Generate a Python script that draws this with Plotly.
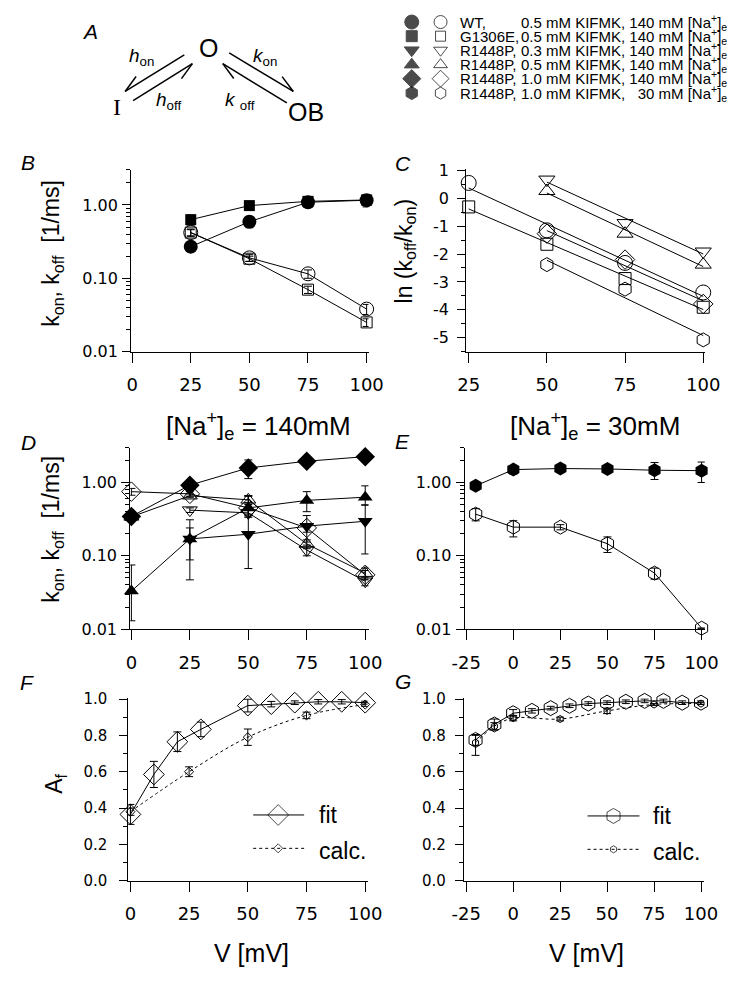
import math

import numpy as np
import plotly.graph_objects as go

W, H = 740, 984

# ---------------- data ----------------
# B: WT and G1306E rate constants vs V (mV)
b_v = [25, 50, 75, 100]
b_wt_kon = [0.27, 0.59, 1.09, 1.16]
b_wt_kon_err = [0.04, 0.1, 0.12, 0.22]
b_wt_koff = [0.42, 0.19, 0.115, 0.038]
b_wt_koff_err = [0.05, 0.02, 0.015, 0.006]
b_g_kon = [0.63, 0.98, 1.12, 1.17]
b_g_kon_err = [0.1, 0.08, 0.06, 0.06]
b_g_koff = [0.42, 0.185, 0.070, 0.025]
b_g_koff_err = [0.04, 0.015, 0.008, 0.003]

# C: ln(koff/kon) vs V
c_v4 = [25, 50, 75, 100]
c_v3 = [50, 75, 100]
c_wt = [0.55, -1.15, -2.32, -3.38]
c_g = [-0.31, -1.65, -2.88, -3.91]
c_r03 = [0.67, -0.89, -1.91]
c_r05 = [0.26, -1.27, -2.38]
c_r10 = [-1.27, -2.20, -3.79]
c_r30 = [-2.38, -3.26, -5.08]

# D: R1448P, 140 mM Na
d_v = [0, 25, 50, 75, 100]
d_v03 = [25, 50, 75, 100]
d_kon10 = [0.344, 0.92, 1.58, 1.95, 2.25]
d_kon10_up = [0.04, 0.08, 0.45, 0.15, 0.2]
d_kon10_dn = [0.04, 0.08, 0.45, 0.15, 0.2]
d_koff10 = [0.75, 0.70, 0.45, 0.24, 0.055]
d_koff10_err = [0.08, 0.05, 0.08, 0.03, 0.008]
d_kon05 = [0.033, 0.17, 0.45, 0.57, 0.63]
d_kon05_up = [0.042, 0.07, 0.2, 0.18, 0.27]
d_kon05_dn = [0.02, 0.082, 0.1, 0.17, 0.14]
d_koff05 = [0.34, 0.66, 0.58, 0.145, 0.058]
d_koff05_err = [0.03, 0.04, 0.08, 0.02, 0.01]
d_kon03 = [0.17, 0.197, 0.254, 0.296]
d_kon03_up = [0.14, 0.46, 0.1, 0.2]
d_kon03_dn = [0.123, 0.13, 0.1, 0.19]
d_koff03 = [0.42, 0.385, 0.12, 0.045]
d_koff03_err = [0.03, 0.05, 0.02, 0.006]

# E: R1448P, 30 mM Na
e_v = [-20, 0, 25, 50, 75, 100]
e_kon = [0.90, 1.50, 1.55, 1.53, 1.47, 1.45]
e_kon_up = [0.12, 0.2, 0.15, 0.15, 0.4, 0.45]
e_kon_dn = [0.1, 0.2, 0.15, 0.15, 0.37, 0.45]
e_koff = [0.37, 0.246, 0.246, 0.146, 0.058, 0.0103]
e_koff_up = [0.07, 0.055, 0.02, 0.035, 0.01, 0.0]
e_koff_dn = [0.07, 0.065, 0.02, 0.035, 0.01, 0.0]

# F: A_f, 140 mM
f_v_fit = [0, 10, 20, 30, 50, 60, 70, 80, 90, 100]
f_fit = [0.365, 0.585, 0.765, 0.833, 0.964, 0.972, 0.98, 0.985, 0.985, 0.98]
f_fit_err = [0.055, 0.072, 0.054, 0.04, 0.035, 0.015, 0.01, 0.012, 0.012, 0.008]
f_v_calc = [0, 25, 50, 75, 100]
f_calc = [0.38, 0.60, 0.79, 0.91, 0.97]
f_calc_err = [0.02, 0.027, 0.045, 0.018, 0.01]

# G: A_f, 30 mM
g_v_fit = [-20, -10, 0, 10, 20, 30, 40, 50, 60, 70, 80, 90, 100]
g_fit = [0.775, 0.86, 0.922, 0.935, 0.95, 0.963, 0.975, 0.98, 0.985, 0.99, 0.99, 0.98, 0.98]
g_fit_err = [0.03, 0.03, 0.02, 0.012, 0.01, 0.01, 0.01, 0.01, 0.01, 0.01, 0.01, 0.01, 0.01]
g_v_calc = [-20, -10, 0, 25, 50, 75, 100]
g_calc = [0.76, 0.85, 0.895, 0.89, 0.935, 0.97, 0.975]
g_calc_up = [0.04, 0.02, 0.015, 0.01, 0.015, 0.005, 0.005]
g_calc_dn = [0.07, 0.02, 0.015, 0.01, 0.015, 0.005, 0.005]

# legend rows (top right)
leg_names = ["WT,", "G1306E,", "R1448P,", "R1448P,", "R1448P,", "R1448P,"]
leg_conds = [
    "0.5 mM KIFMK, 140 mM",
    "0.5 mM KIFMK, 140 mM",
    "0.3 mM KIFMK, 140 mM",
    "0.5 mM KIFMK, 140 mM",
    "1.0 mM KIFMK, 140 mM",
    "1.0 mM KIFMK,&nbsp;&nbsp;&nbsp;30 mM",
]
leg_symbols = ["circle", "square", "triangle-down", "triangle-up", "diamond", "hexagon"]
leg_sizes = [14, 11, 13, 13, 14, 13]

# ---------------- helpers ----------------
TICK = "DejaVu Sans"
TEXT = "Liberation Sans, Arial, sans-serif"


def xdom(a, b):
    return [a / W, b / W]


def ydom(top, bottom):
    return [1 - bottom / H, 1 - top / H]


def err(up, dn=None):
    e = dict(type="data", array=up, color="black", thickness=1, width=4)
    if dn is not None:
        e["arrayminus"] = dn
        e["symmetric"] = False
    return e


fig = go.Figure()


def add(ax, x, y, symbol, size, mode="lines+markers", error=None, dash="solid", shape="linear"):
    filled = not symbol.endswith("open")
    fig.add_trace(go.Scatter(
        x=x, y=y, mode=mode, xaxis="x" + ax, yaxis="y" + ax,
        line=dict(color="black", width=1, dash=dash, shape=shape),
        marker=dict(symbol=symbol, size=size, color="black",
                    line=dict(color="black", width=0 if filled else 1)),
        error_y=error, cliponaxis=False, showlegend=False, hoverinfo="skip",
    ))


# B
add("", b_v, b_wt_koff, "circle-open", 14, error=err(b_wt_koff_err))
add("", b_v, b_g_koff, "square-open", 11, error=err(b_g_koff_err))
add("", b_v, b_wt_kon, "circle", 14, error=err(b_wt_kon_err))
add("", b_v, b_g_kon, "square", 11, error=err(b_g_kon_err))

# C: markers + linear fits
for xs, ys, sym, sz in [(c_v4, c_wt, "circle-open", 15), (c_v4, c_g, "square-open", 12),
                        (c_v3, c_r03, "triangle-down-open", 14), (c_v3, c_r05, "triangle-up-open", 14),
                        (c_v3, c_r10, "diamond-open", 15), (c_v3, c_r30, "hexagon-open", 14)]:
    k, b0 = np.polyfit(xs, ys, 1)
    ends = [xs[0], xs[-1]]
    add("2", ends, [k * v + b0 for v in ends], sym, 1, mode="lines")
    add("2", xs, ys, sym, sz, mode="markers")

# D
add("3", d_v, d_koff05, "triangle-up-open", 13, error=err(d_koff05_err))
add("3", d_v03, d_koff03, "triangle-down-open", 13, error=err(d_koff03_err))
add("3", d_v, d_koff10, "diamond-open", 15, error=err(d_koff10_err))
add("3", d_v, d_kon05, "triangle-up", 13, error=err(d_kon05_up, d_kon05_dn))
add("3", d_v03, d_kon03, "triangle-down", 13, error=err(d_kon03_up, d_kon03_dn))
add("3", d_v, d_kon10, "diamond", 15, error=err(d_kon10_up, d_kon10_dn))

# E
add("4", e_v, e_koff, "hexagon-open", 14, error=err(e_koff_up, e_koff_dn))
add("4", e_v, e_kon, "hexagon", 14, error=err(e_kon_up, e_kon_dn))

# F
add("5", f_v_calc, f_calc, "diamond-open", 7, error=err(f_calc_err), dash="dot", shape="spline")
add("5", f_v_fit, f_fit, "diamond-open", 16, error=err(f_fit_err))

# G
add("6", g_v_calc, g_calc, "hexagon-open", 7, error=err(g_calc_up, g_calc_dn), dash="dot", shape="spline")
add("6", g_v_fit, g_fit, "hexagon-open", 15, error=err(g_fit_err))

# legend markers (overlay in pixel space)
leg_y = [14.3, 28.7, 43.0, 57.7, 72.0, 86.7]
fig.add_trace(go.Scatter(
    x=[415] * 6 + [445] * 6, y=leg_y + leg_y, mode="markers", xaxis="x7", yaxis="y7",
    marker=dict(symbol=leg_symbols + [s + "-open" for s in leg_symbols], size=leg_sizes + [s - 1 for s in leg_sizes],
                color="black", line=dict(color="black", width=1)),
    cliponaxis=False, showlegend=False, hoverinfo="skip",
))
# F / G inset legends
fig.add_trace(go.Scatter(
    x=[276, 276, 625, 625], y=[822, 856, 823, 857], mode="markers", xaxis="x7", yaxis="y7",
    marker=dict(symbol=["diamond-open", "diamond-open", "hexagon-open", "hexagon-open"], size=[16, 7, 15, 7],
                color="black", line=dict(color="black", width=1)),
    cliponaxis=False, showlegend=False, hoverinfo="skip",
))

shapes = []
for x0, x1, y0, dash in [(250, 303, 822, "solid"), (250, 303, 856, "dot"),
                         (598, 652, 823, "solid"), (598, 652, 857, "dot")]:
    shapes.append(dict(type="line", xref="x7", yref="y7", x0=x0, x1=x1, y0=y0, y1=y0,
                       line=dict(color="black", width=1, dash=dash)))


def harpoon(x0, y0, x1, y1, theta):
    shapes.append(dict(type="line", xref="x7", yref="y7", x0=x0, y0=y0, x1=x1, y1=y1,
                       line=dict(color="black", width=1.5)))
    dx, dy = x0 - x1, y0 - y1
    n = math.hypot(dx, dy)
    dx, dy = dx / n, dy / n
    t = math.radians(theta)
    rx = math.cos(t) * dx - math.sin(t) * dy
    ry = math.sin(t) * dx + math.cos(t) * dy
    shapes.append(dict(type="line", xref="x7", yref="y7", x0=x1, y0=y1, x1=x1 + 19 * rx, y1=y1 + 19 * ry,
                       line=dict(color="black", width=1.5)))


harpoon(178.3, 47.7, 116.7, 85.0, -22)
harpoon(125.0, 94.3, 186.7, 56.7, -22)
harpoon(225.0, 45.7, 291.7, 85.0, 22)
harpoon(285.0, 96.7, 218.3, 56.7, 22)

# ---------------- annotations ----------------
ann = []


def txt(x, y, s, size, family=TEXT, anchor="center", angle=0):
    ann.append(dict(x=x, y=y, xref="x7", yref="y7", text=s, showarrow=False, textangle=angle,
                    xanchor=anchor, yanchor="middle", font=dict(family=family, size=size, color="black")))


for lbl, (x, y) in zip("ABCDEFG", [(80, 24), (16, 157), (406, 158), (16, 443), (405, 442), (15, 687), (406, 686)]):
    txt(x, y, "<i>%s</i>" % lbl, 21)

txt(203.5, 41, "O", 25)
txt(108, 101, "I", 24, family="Liberation Serif, Times New Roman, serif")
txt(305, 106, "OB", 25)
txt(134, 50, "<i>h</i><sub>on</sub>", 19)
txt(162, 95, "<i>h</i><sub>off</sub>", 19)
txt(262, 50, "<i>k</i><sub>on</sub>", 19)
txt(236, 95, "<i>k</i> <sub>off</sub>", 19)

for y, name, cond in zip(leg_y, leg_names, leg_conds):
    txt(463, y, name, 15, anchor="left")
    txt(527, y, cond + " [Na<sup>+</sup>]<sub>e</sub>", 15, anchor="left")

txt(41, 250, "k<sub>on</sub>, k<sub>off</sub>&nbsp;&nbsp;[1/ms]", 23, angle=-90)
txt(408, 248, "ln (k<sub>off</sub>/k<sub>on</sub>)", 23, angle=-90)
txt(41, 531, "k<sub>on</sub>, k<sub>off</sub>&nbsp;&nbsp;[1/ms]", 23, angle=-90)
txt(44, 790, "A<sub>f</sub>", 23, angle=-90)
txt(256, 426, "[Na<sup>+</sup>]<sub>e</sub> = 140mM", 26)
txt(606, 426, "[Na<sup>+</sup>]<sub>e</sub> = 30mM", 26)
txt(248, 963, "V [mV]", 25)
txt(597, 963, "V [mV]", 25)
txt(316, 822, "fit", 23, anchor="left")
txt(316, 859, "calc.", 23, anchor="left")
txt(664, 823, "fit", 23, anchor="left")
txt(664, 860, "calc.", 23, anchor="left")

# ---------------- axes ----------------
log_minor = [m * 10.0 ** e for e in (-2, -1, 0) for m in range(2, 10) if m * 10.0 ** e <= 3.01]
base = dict(showline=True, linecolor="black", linewidth=1, ticks="outside", tickcolor="black",
            tickwidth=1, showgrid=False, zeroline=False, fixedrange=True)


def xax(a, b, rng, vals, texts=None, anchor="y"):
    return dict(base, domain=xdom(a, b), range=rng, tickmode="array", tickvals=vals,
                ticktext=texts or [str(v) for v in vals], ticklen=10, ticklabelstandoff=7,
                tickfont=dict(family=TICK, size=18, color="black"), anchor=anchor)


def ylog(top, bottom, anchor, standoff=1):
    return dict(base, domain=ydom(top, bottom), type="log", range=[-2, math.log10(3)],
                tickmode="array", tickvals=[0.01, 0.1, 1], ticktext=["0.01", "0.10", "1.00"],
                ticklen=8, ticklabelstandoff=standoff, tickfont=dict(family=TICK, size=16, color="black"),
                minor=dict(tickmode="array", tickvals=log_minor, ticks="outside", ticklen=4,
                           tickcolor="black", showgrid=False), anchor=anchor)


def ylin(top, bottom, anchor, standoff):
    vals = [0, 0.2, 0.4, 0.6, 0.8, 1.0]
    return dict(base, domain=ydom(top, bottom), range=[0, 1.005], tickmode="array", tickvals=vals,
                ticktext=["%.1f" % v for v in vals], ticklen=8, ticklabelstandoff=standoff,
                tickfont=dict(family=TICK, size=15, color="black"),
                minor=dict(dtick=0.1, ticks="outside", ticklen=4, tickcolor="black", showgrid=False),
                anchor=anchor)


v5 = [0, 25, 50, 75, 100]
v6 = [-25, 0, 25, 50, 75, 100]
c_ticks = [1, 0, -1, -2, -3, -4, -5]

fig.update_layout(
    width=W, height=H, margin=dict(l=0, r=0, t=0, b=0),
    paper_bgcolor="white", plot_bgcolor="rgba(0,0,0,0)",
    xaxis=xax(123, 370, [-0.4, 100.8], v5, anchor="y"),
    yaxis=ylog(165, 350, "x"),
    xaxis2=xax(471.7, 720, [24.2, 100.5], [25, 50, 75, 100], anchor="y2"),
    yaxis2=dict(base, domain=ydom(164, 350), range=[-5.5, 1.05], tickmode="array", tickvals=c_ticks,
                ticktext=[str(v) for v in c_ticks], ticklen=8, ticklabelstandoff=5,
                tickfont=dict(family=TICK, size=16, color="black"),
                minor=dict(dtick=0.5, ticks="outside", ticklen=4, tickcolor="black", showgrid=False),
                anchor="x2"),
    xaxis3=xax(122, 370, [-0.5, 101.4], v5, anchor="y3"),
    yaxis3=ylog(447.7, 632.7, "x3"),
    xaxis4=xax(470, 720, [-25.9, 101.7], v6, anchor="y4"),
    yaxis4=ylog(447.7, 632.7, "x4"),
    xaxis5=xax(120, 369, [-0.9, 101], v5, anchor="y5"),
    yaxis5=ylin(703, 889, "x5", 9),
    xaxis6=xax(469.3, 719, [-26.2, 101.5], v6, anchor="y6"),
    yaxis6=ylin(703, 889, "x6", 6),
    xaxis7=dict(domain=[0, 1], range=[0, W], visible=False, fixedrange=True, anchor="y7"),
    yaxis7=dict(domain=[0, 1], range=[H, 0], visible=False, fixedrange=True, anchor="x7"),
    shapes=shapes, annotations=ann,
)

fig.write_html("out.html", config={"displayModeBar": False},
               post_script="document.body.style.margin = '0px';")
